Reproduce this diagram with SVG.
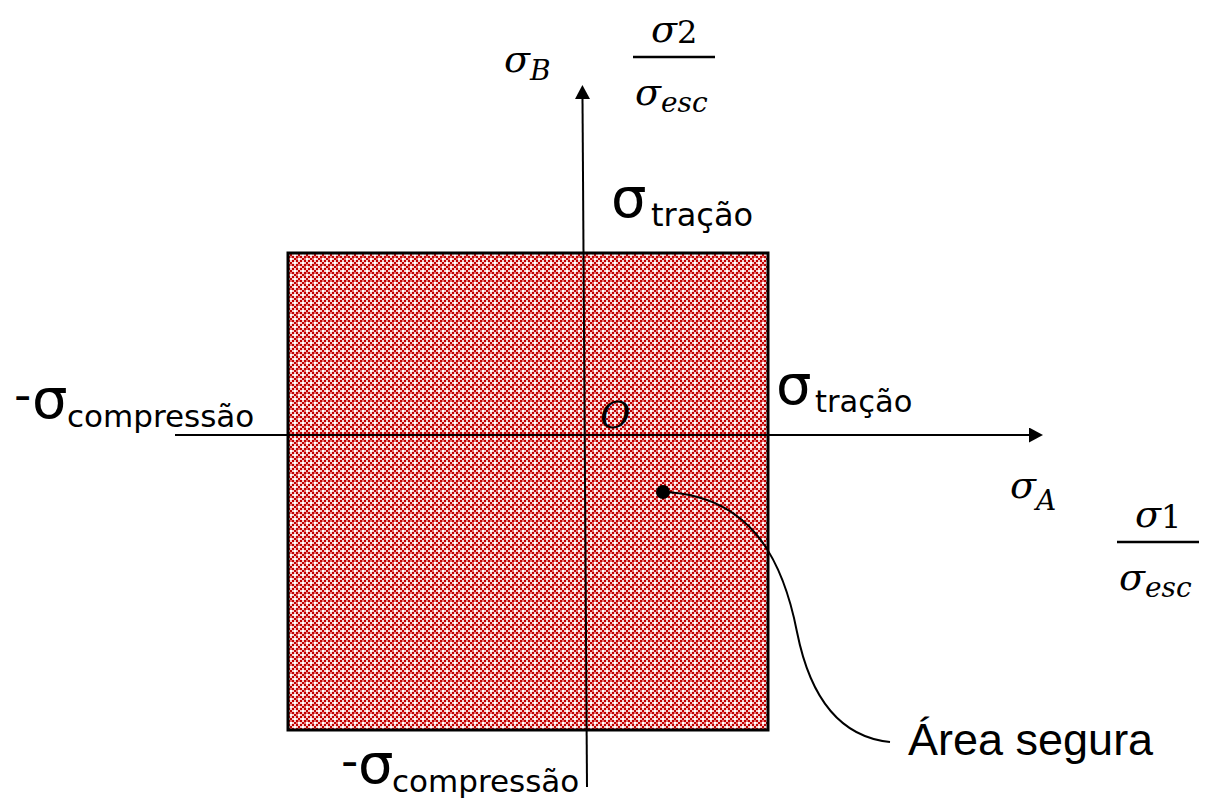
<svg xmlns="http://www.w3.org/2000/svg" width="1206" height="803" viewBox="0 0 1206 803">
<style>
.sig{font-family:"DejaVu Sans","Verdana",sans-serif;fill:#000}
.math{font-family:"DejaVu Serif","Liberation Serif",serif;font-style:italic;fill:#000}
.up{font-style:normal}
.lbl{font-family:"Liberation Sans",Arial,sans-serif;fill:#000}
.axis{stroke:#000;stroke-width:2;fill:none}
.big{font-size:56px}
.hy{font-size:48px}
</style>
<defs>
<pattern id="chk" patternUnits="userSpaceOnUse" x="0" y="0" width="8" height="8">
<rect width="8" height="8" fill="#f6cccc"/>
<rect x="0" y="0" width="2" height="2" fill="#c00000"/>
<rect x="4" y="0" width="2" height="2" fill="#c00000"/>
<rect x="2" y="2" width="2" height="2" fill="#ffffff"/>
<rect x="6" y="2" width="2" height="2" fill="#c00000"/>
<rect x="0" y="4" width="2" height="2" fill="#c00000"/>
<rect x="4" y="4" width="2" height="2" fill="#c00000"/>
<rect x="2" y="6" width="2" height="2" fill="#c00000"/>
<rect x="6" y="6" width="2" height="2" fill="#ffffff"/>
<rect x="2" y="0" width="2" height="2" fill="#e87070"/>
<rect x="0" y="2" width="2" height="2" fill="#e87070"/>
</pattern>
<marker id="arr" viewBox="0 0 14 15" refX="0" refY="7.5" markerWidth="14" markerHeight="15" markerUnits="userSpaceOnUse" orient="auto">
<path d="M0,0 L14,7.5 L0,15 z" fill="#000"/>
</marker>
</defs>
<g id="safe-area">
<rect x="288" y="253" width="480" height="477" fill="url(#chk)" stroke="#000" stroke-width="3"/>
</g>
<g id="connectors">
<line class="axis" x1="175" y1="435" x2="1029" y2="435" marker-end="url(#arr)"/>
<line class="axis" x1="587" y1="787" x2="582.5" y2="99" marker-end="url(#arr)"/>
<path class="axis" d="M663,492 C748,495 782,555 797,632 C813,712 850,738 890,742"/>
<circle cx="663" cy="492" r="7" fill="#000"/>
</g>
<g id="label-sigma-B"><text class="math" x="504" y="72" font-size="38">σ<tspan font-size="28" dy="8">B</tspan></text></g>
<g id="label-sigma2-frac">
<text class="math" x="651" y="42" font-size="38">σ<tspan class="up" font-size="32" dy="1">2</tspan></text>
<line x1="633" y1="57" x2="715" y2="57" stroke="#000" stroke-width="2.5"/>
<text class="math" x="635" y="105" font-size="38">σ<tspan font-size="28" dy="7">esc</tspan></text>
</g>
<g id="label-tracao-top"><text class="sig" y="217"><tspan class="big" x="611">σ</tspan><tspan x="651" font-size="32" dy="9">tração</tspan></text></g>
<g id="label-compressao-left"><text class="sig"><tspan class="hy" x="14" y="411">-</tspan><tspan class="big" x="32" y="418">σ</tspan><tspan x="67" y="427" font-size="31">compressão</tspan></text></g>
<g id="label-origin"><text class="math" x="600" y="428" font-size="37">O</text></g>
<g id="label-tracao-right"><text class="sig" y="404"><tspan class="big" x="776">σ</tspan><tspan x="815" font-size="30.5" dy="8">tração</tspan></text></g>
<g id="label-sigma-A"><text class="math" x="1010" y="498" font-size="38">σ<tspan font-size="28" dy="12">A</tspan></text></g>
<g id="label-sigma1-frac">
<text class="math" x="1135" y="527" font-size="38">σ<tspan class="up" font-size="32" dy="1">1</tspan></text>
<line x1="1117" y1="542" x2="1199" y2="542" stroke="#000" stroke-width="2.5"/>
<text class="math" x="1119" y="590" font-size="38">σ<tspan font-size="28" dy="7">esc</tspan></text>
</g>
<g id="label-compressao-bottom"><text class="sig"><tspan class="hy" x="341" y="777">-</tspan><tspan class="big" x="358" y="783">σ</tspan><tspan x="392" y="792" font-size="31">compressão</tspan></text></g>
<g id="label-area-segura"><text class="lbl" x="908" y="755" font-size="45">Área segura</text></g>
</svg>
